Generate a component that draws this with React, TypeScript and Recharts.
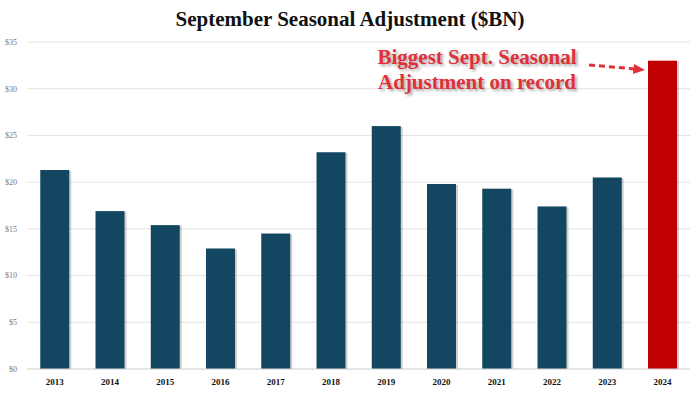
import React from "react";
import { BarChart, Bar, XAxis, YAxis, CartesianGrid, Cell } from "recharts";

const years = ["2013", "2014", "2015", "2016", "2017", "2018", "2019", "2020", "2021", "2022", "2023", "2024"];
const adjustment = [21.3, 16.9, 15.4, 12.9, 14.5, 23.2, 26.0, 19.8, 19.3, 17.4, 20.5, 33.0];
const yTicks = [0, 5, 10, 15, 20, 25, 30, 35];

const data = years.map((year, i) => ({ year, value: adjustment[i] }));

const NAVY = "#134761";
const RED = "#c00000";
const SERIF = "'Liberation Serif', 'DejaVu Serif', serif";

function ShadowBar(props: any) {
  const { x, y, width, height, fill } = props;
  if (!height || height <= 0) return null;
  return (
    <g>
      <rect x={x + 2} y={y + 1} width={width} height={height - 1} fill="rgba(0,0,0,0.18)" />
      <rect x={x} y={y} width={width} height={height} fill={fill} />
    </g>
  );
}

export default function App() {
  return (
    <div
      style={{
        position: "absolute",
        left: 0,
        top: 0,
        width: 700,
        height: 394,
        background: "#fff",
        fontFamily: SERIF,
      }}
    >
      <div
        style={{
          position: "absolute",
          top: 7,
          left: 0,
          width: 700,
          textAlign: "center",
          fontSize: 21,
          fontWeight: "bold",
          color: "#111",
        }}
      >
        September Seasonal Adjustment ($BN)
      </div>
      <BarChart
        width={700}
        height={394}
        data={data}
        margin={{ top: 42, right: 10, left: 0, bottom: 0 }}
        barCategoryGap="24%"
      >
        <CartesianGrid vertical={false} stroke="#e3e3e3" />
        <XAxis
          dataKey="year"
          height={25}
          tickLine={false}
          axisLine={{ stroke: "#d9d9d9" }}
          tick={{ fontSize: 9, fill: "#111", fontFamily: SERIF, fontWeight: "bold" }}
          tickMargin={4}
        />
        <YAxis
          width={27}
          domain={[0, 35]}
          ticks={yTicks}
          tickFormatter={(v: number) => `$${v}`}
          tickLine={false}
          tickSize={0}
          tickMargin={10}
          axisLine={false}
          tick={{ fontSize: 8, fill: "#777", fontFamily: SERIF }}
        />
        <Bar dataKey="value" isAnimationActive={false} shape={<ShadowBar />}>
          {data.map((d, i) => (
            <Cell key={d.year} fill={i === data.length - 1 ? RED : NAVY} />
          ))}
        </Bar>
      </BarChart>
      <div
        style={{
          position: "absolute",
          left: 362,
          top: 45,
          width: 230,
          textAlign: "center",
          fontSize: 21,
          lineHeight: "25px",
          fontWeight: "bold",
          color: "#e0303a",
          textShadow: "2px 2px 3px rgba(0,0,0,0.35)",
        }}
      >
        Biggest Sept. Seasonal
        <br />
        Adjustment on record
      </div>
      <svg style={{ position: "absolute", left: 0, top: 0 }} width={700} height={394}>
        <line x1={589} y1={65} x2={636} y2={69} stroke="#e0303a" strokeWidth={3} strokeDasharray="6 4" />
        <polygon points="645,70 634,64 633,74" fill="#e0303a" />
      </svg>
    </div>
  );
}
